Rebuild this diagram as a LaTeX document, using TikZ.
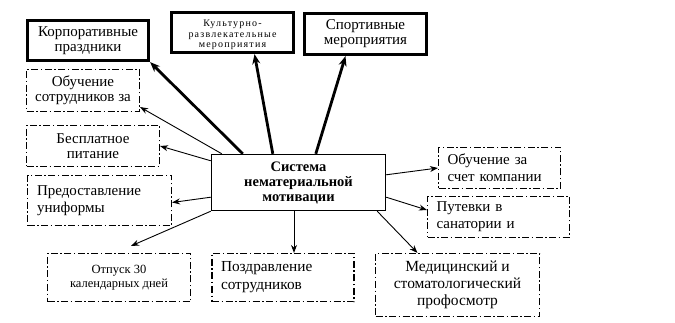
\documentclass[tikz,border=0pt]{standalone}
\usepackage{fontspec}
\setmainfont{Liberation Serif}
\usetikzlibrary{arrows.meta}

\begin{document}
\begin{tikzpicture}[x=1pt, y=-1pt,
    mainfont/.style={font=\fontsize{15}{15}\selectfont},
    tallfont/.style={font=\fontsize{15}{17}\selectfont},
    solidbox/.style={draw, line width=3.2pt, inner sep=0pt, align=center},
    dashbox/.style={draw, line width=1.1pt, dash pattern=on 7pt off 2.5pt on 1.5pt off 2.5pt, inner sep=0pt, align=center},
    leftbox/.style={dashbox, align=left, inner xsep=9pt, text width=#1},
    sysbox/.style={draw, line width=1.4pt, inner sep=0pt, align=center},
    boldarrow/.style={line width=2.8pt, -{Stealth[length=10pt,width=8pt]}},
    thinarrow/.style={line width=0.9pt, -{Stealth[length=8pt,width=6pt]}}]
    \useasboundingbox (0,0) rectangle (675,323);

    % upper row
    \node[solidbox, mainfont, minimum width=121pt, minimum height=40pt] (corp) at (88,40.5) {Корпоративные\\праздники};
    \node[solidbox, minimum width=122pt, minimum height=40pt] (cult) at (232.5,32.5) {};
    \begin{scope}
        \clip ([xshift=1.6pt,yshift=-1.6pt]cult.north west) rectangle ([xshift=-1.6pt,yshift=5pt]cult.south east);
        \node[font=\fontsize{10}{10.5}\selectfont\addfontfeature{LetterSpace=12}, align=center, anchor=base, inner sep=0pt] (culttext) at (232.5,48) {Культурно-\\развлекательные\\мероприятия};
    \end{scope}
    \node[solidbox, mainfont, minimum width=122pt, minimum height=41pt] (sport) at (365.5,34) {Спортивные\\мероприятия};

    % left column
    \node[dashbox, mainfont, minimum width=113pt, minimum height=42pt] (train) at (83,90.5) {Обучение\\сотрудников за};
    \node[dashbox, mainfont, minimum width=133pt, minimum height=41pt] (food) at (93,146) {Бесплатное\\питание};
    \node[leftbox=125pt, tallfont, minimum width=144pt, minimum height=50pt] (uniform) at (99.5,200.5) {Предоставление\\униформы};

    % centre
    \node[sysbox, font=\bfseries\fontsize{14.5}{15}\selectfont, minimum width=174pt, minimum height=56pt] (sys) at (298.5,182.5) {Система\\нематериальной\\мотивации};

    % right column
    \node[leftbox=104pt, tallfont, minimum width=122pt, minimum height=41pt] (study) at (499.5,168) {Обучение за\\счет компании};
    \node[leftbox=124pt, tallfont, minimum width=142pt, minimum height=41pt] (voucher) at (498.5,217) {Путевки в\\санатории и};

    % bottom row
    \node[dashbox, font=\fontsize{12.5}{13.5}\selectfont, minimum width=143pt, minimum height=48pt] (leave) at (119,277.5) {Отпуск 30\\календарных дней};
    \node[leftbox=124pt, font=\fontsize{15.3}{18}\selectfont, minimum width=141pt, minimum height=48pt] (greet) at (283,277.5) {Поздравление\\сотрудников};
    \node[dashbox, font=\fontsize{15.5}{17}\selectfont, minimum width=164pt, minimum height=63pt] (med) at (457.5,285) {Медицинский и\\стоматологический\\профосмотр};

    % arrows
    \draw[boldarrow] ([xshift=32pt]sys.north west) -- (corp.south east);
    \draw[boldarrow] ([xshift=62pt]sys.north west) -- ([xshift=22pt]cult.south);
    \draw[boldarrow] ([xshift=105pt]sys.north west) -- ([xshift=-20pt]sport.south);
    \draw[thinarrow] ([xshift=11pt]sys.north west) -- ([yshift=5pt]train.south east);
    \draw[thinarrow] ([yshift=-7pt]sys.north west) -- (food.east);
    \draw[thinarrow] ([yshift=14pt]sys.south west) -- ([yshift=-2pt]uniform.east);
    \draw[thinarrow] (sys.south west) -- ([xshift=12pt,yshift=7pt]leave.north);
    \draw[thinarrow] ([xshift=-4.5pt]sys.south) -- ([xshift=-4.5pt]sys.south |- greet.north);
    \draw[thinarrow] ([xshift=-9pt]sys.south east) -- ([xshift=-40pt]med.north);
    \draw[thinarrow] ([yshift=14pt]sys.south east) -- ([yshift=7pt]voucher.west);
    \draw[thinarrow] ([yshift=-21pt]sys.north east) -- (study.west);
\end{tikzpicture}
\end{document}
